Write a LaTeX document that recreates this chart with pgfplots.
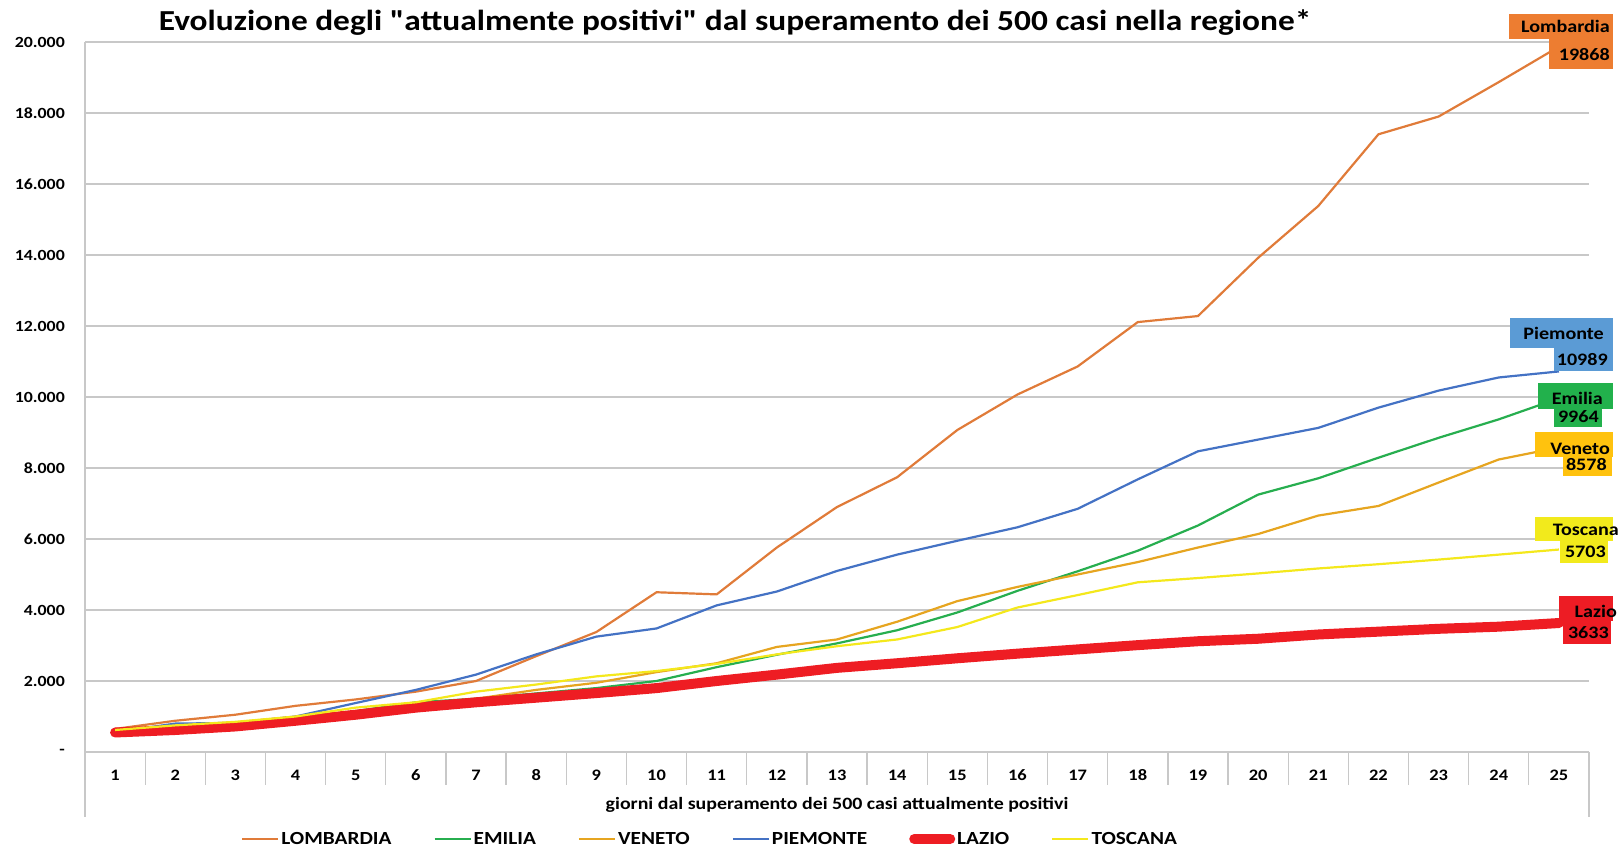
\documentclass[border=0pt]{standalone}
\usepackage{fontspec}
\setmainfont{Carlito}[FakeStretch=1.15]
\newfontfamily\titlefont{Carlito}[FakeStretch=1.15, Ligatures=TeXOff]
\usepackage{pgfplots}
\pgfplotsset{compat=1.18}
\definecolor{cLom}{HTML}{E07B39}
\definecolor{cEmi}{HTML}{27AE4F}
\definecolor{cVen}{HTML}{E6A520}
\definecolor{cPie}{HTML}{4472C4}
\definecolor{cLaz}{HTML}{EE1D23}
\definecolor{cTos}{HTML}{F4E81C}
\definecolor{bLom}{HTML}{ED7D31}
\definecolor{bPie}{HTML}{5B9BD5}
\definecolor{bEmi}{HTML}{22B14C}
\definecolor{bVen}{HTML}{FFC20E}
\definecolor{bTos}{HTML}{F2EA1C}
\definecolor{bLaz}{HTML}{ED1C24}
\definecolor{gridc}{HTML}{C8C8C8}
\begin{document}
\begin{tikzpicture}[x=1pt,y=1pt]
\path[use as bounding box] (0,0) rectangle (1619,848);
\begin{axis}[
  at={(85pt,96pt)}, anchor=south west,
  scale only axis, width=1504pt, height=710pt,
  xmin=0.5, xmax=25.5, ymin=0, ymax=20000,
  scaled y ticks=false,
  axis x line*=bottom, axis y line*=left,
  axis line style={draw=gridc, line width=1.3pt},
  xtick={1,...,25},
  xticklabels={1,2,3,4,5,6,7,8,9,10,11,12,13,14,15,16,17,18,19,20,21,22,23,24,25},
  minor xtick={1.5,2.5,...,24.5},
  major tick length=0pt, minor tick length=33pt, tick align=outside,
  minor tick style={draw=gridc, line width=1.3pt},
  ytick={0,2000,...,20000},
  yticklabels={-,2.000,4.000,6.000,8.000,10.000,12.000,14.000,16.000,18.000,20.000},
  ymajorgrids, grid style={draw=gridc, line width=1.3pt},
  xticklabel style={font=\bfseries\fontsize{16}{16}\selectfont, inner sep=0pt, anchor=center, yshift=-23pt},
  yticklabel style={font=\bfseries\fontsize{15.5}{15.5}\selectfont, inner sep=0pt, anchor=east, xshift=-20pt},
  xlabel={giorni dal superamento dei 500 casi attualmente positivi},
  xlabel style={font=\bfseries\fontsize{17.3}{17.3}\selectfont, at={(axis description cs:0.5,-0.0746)}, anchor=center, inner sep=0pt},
  legend columns=6,
  legend style={at={(axis description cs:0.4156,-0.1225)}, anchor=center, draw=none, fill=none,
    font=\bfseries\fontsize{18.5}{18.5}\selectfont, inner sep=0pt,
    nodes={inner sep=2pt},
    /tikz/every even column/.append style={column sep=40pt}},
  legend image code/.code={\draw[#1] (0pt,0pt) -- (36pt,0pt);},
  clip=false,
]
\addplot[cLom, line width=2.2pt] coordinates {
(1,650)(2,880)(3,1050)(4,1300)(5,1480)(6,1700)(7,2000)(8,2700)(9,3380)(10,4500)
(11,4440)(12,5760)(13,6900)(14,7740)(15,9070)(16,10070)(17,10860)(18,12110)(19,12280)(20,13920)
(21,15380)(22,17400)(23,17900)(24,18870)(25,19868)};
\addlegendentry{LOMBARDIA}
\addplot[cEmi, line width=2.2pt] coordinates {
(1,600)(2,720)(3,800)(4,950)(5,1150)(6,1400)(7,1500)(8,1650)(9,1800)(10,2000)
(11,2390)(12,2740)(13,3060)(14,3430)(15,3930)(16,4540)(17,5090)(18,5670)(19,6380)(20,7250)
(21,7710)(22,8290)(23,8850)(24,9370)(25,9964)};
\addlegendentry{EMILIA}
\addplot[cVen, line width=2.2pt] coordinates {
(1,620)(2,700)(3,780)(4,850)(5,1000)(6,1350)(7,1500)(8,1750)(9,1950)(10,2250)
(11,2500)(12,2960)(13,3170)(14,3670)(15,4250)(16,4650)(17,5000)(18,5350)(19,5760)(20,6140)
(21,6660)(22,6930)(23,7590)(24,8240)(25,8578)};
\addlegendentry{VENETO}
\addplot[cPie, line width=2.2pt] coordinates {
(1,560)(2,800)(3,820)(4,1000)(5,1380)(6,1750)(7,2180)(8,2750)(9,3250)(10,3480)
(11,4130)(12,4520)(13,5100)(14,5560)(15,5950)(16,6330)(17,6850)(18,7680)(19,8470)(20,8800)
(21,9130)(22,9700)(23,10180)(24,10550)(25,10720)};
\addlegendentry{PIEMONTE}
\addplot[cLaz, line width=10pt, line cap=round, line join=round] coordinates {
(1,550)(2,620)(3,720)(4,880)(5,1050)(6,1250)(7,1400)(8,1530)(9,1660)(10,1800)
(11,2000)(12,2180)(13,2370)(14,2500)(15,2640)(16,2770)(17,2890)(18,3010)(19,3120)(20,3190)
(21,3310)(22,3390)(23,3470)(24,3530)(25,3633)};
\addlegendentry{LAZIO}
\addplot[cTos, line width=2.2pt] coordinates {
(1,620)(2,750)(3,850)(4,1000)(5,1250)(6,1400)(7,1700)(8,1900)(9,2130)(10,2280)
(11,2480)(12,2750)(13,2980)(14,3170)(15,3520)(16,4070)(17,4420)(18,4780)(19,4900)(20,5030)
(21,5170)(22,5290)(23,5420)(24,5560)(25,5703)};
\addlegendentry{TOSCANA}
\end{axis}
% frame extensions
\draw[gridc, line width=1.3pt] (85,96) -- (85,31);
\draw[gridc, line width=1.3pt] (1589,96) -- (1589,31);
% title
\node[font=\titlefont\bfseries\fontsize{29}{29}\selectfont, inner sep=0pt] at (735,825) {Evoluzione degli "attualmente positivi" dal superamento dei 500 casi nella regione*};
% data labels
\tikzset{lab/.style={font=\bfseries\fontsize{17.5}{17.5}\selectfont, inner sep=0pt, anchor=base east}}
\fill[bLom] (1509,809) rectangle (1613,834);
\fill[bLom] (1549,779) rectangle (1613,809);
\node[lab] at (1610,815) {Lombardia};
\node[lab] at (1610,787) {19868};
\fill[bPie] (1510,500) rectangle (1613,530);
\fill[bPie] (1554,477) rectangle (1613,500);
\node[lab] at (1604,508) {Piemonte};
\node[lab] at (1608,482) {10989};
\fill[bEmi] (1538,439) rectangle (1613,465);
\fill[bEmi] (1554,421) rectangle (1602,439);
\node[lab] at (1603,443) {Emilia};
\node[lab] at (1599,425) {9964};
\fill[bVen] (1535,391) rectangle (1613,416);
\fill[bVen] (1563,372) rectangle (1612,391);
\node[lab] at (1610,393) {Veneto};
\node[lab] at (1607,377) {8578};
\fill[bTos] (1535,307) rectangle (1613,331);
\fill[bTos] (1560,285) rectangle (1608,307);
\node[lab] at (1619,312) {Toscana};
\node[lab] at (1606,290) {5703};
\fill[bLaz] (1559,227) rectangle (1613,252);
\fill[bLaz] (1563,204) rectangle (1611,227);
\node[lab] at (1617,230) {Lazio};
\node[lab] at (1609,209) {3633};
\end{tikzpicture}
\end{document}
